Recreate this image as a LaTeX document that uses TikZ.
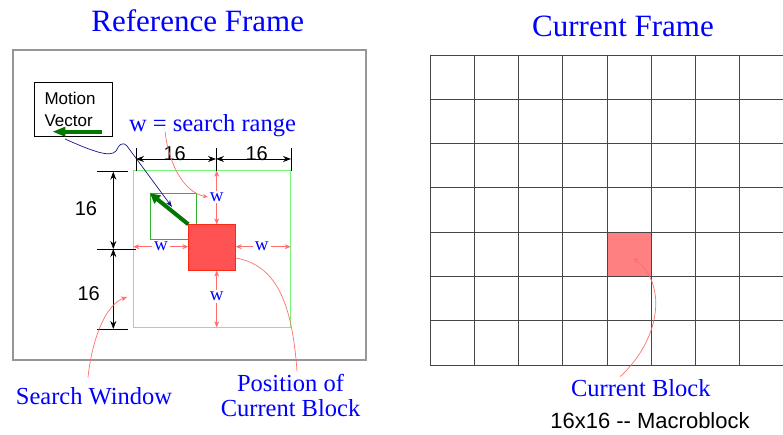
\documentclass[tikz,border=0pt]{standalone}
\usepackage{fontspec}
\setmainfont{Liberation Serif}
\setsansfont{Liberation Sans}
\usetikzlibrary{
  arrows.meta,
  positioning
}
\definecolor{label}{RGB}{0,0,255}
\definecolor{window}{RGB}{120,245,120}
\definecolor{prevblk}{RGB}{50,180,50}
\definecolor{motion}{RGB}{0,120,0}
\definecolor{blockred}{RGB}{255,82,82}
\definecolor{blockedge}{RGB}{255,40,20}
\definecolor{curred}{RGB}{255,128,128}
\definecolor{hint}{RGB}{255,110,110}
\definecolor{framegray}{RGB}{150,150,150}
\definecolor{gridgray}{RGB}{70,70,70}
\definecolor{pointer}{RGB}{20,20,140}

\begin{document}
\begin{tikzpicture}[
  x=1pt, y=-1pt,
  every node/.style={inner sep=0pt, outer sep=0pt},
  title/.style={text=label, font=\fontsize{31}{34}\selectfont, anchor=base},
  caption/.style={text=label, font=\fontsize{24.5}{27}\selectfont, anchor=base},
  wlabel/.style={text=label, font=\fontsize{19}{21}\selectfont, outer sep=2pt},
  dimlabel/.style={font=\sffamily\fontsize{20}{22}\selectfont, anchor=base},
  dimline/.style={{Stealth[length=8pt,width=6pt]}-{Stealth[length=8pt,width=6pt]}, line width=0.8pt},
  tick/.style={line width=0.8pt},
  warrow/.style={-{Stealth[length=6pt,width=5pt]}, draw=hint, line width=0.7pt},
  callout/.style={draw=hint, line width=0.7pt},
  mvarrow/.style={draw=motion, line width=4pt, -{Triangle[length=10pt,width=10pt]}},
  cell/.style={draw=gridgray, line width=0.8pt},
  >=Stealth
]

\useasboundingbox (0,0) rectangle (783,435);

% Titles
\node[title] (reftitle) at (197.7,31.5) {Reference Frame};
\node[title] (curtitle) at (623,36.5) {Current Frame};

% Reference frame
\node[draw=framegray, line width=1.2pt, minimum width=353pt, minimum height=310pt]
  (refframe) at (189.5,205) {};

\node[draw=window, line width=1pt, minimum width=157.4pt, minimum height=156.6pt]
  (win) at (212,249) {};
\node[draw=prevblk, line width=0.9pt, minimum width=46.7pt, minimum height=46pt]
  (prev) at (173.3,216.3) {};
\node[draw=blockedge, fill=blockred, line width=0.8pt, minimum width=47.4pt, minimum height=46.4pt]
  (blk) at (212,247.5) {};

\draw[mvarrow] (blk.north west) -- (prev.north west);
\coordinate (mvtip) at (172,207);

% Motion vector box
\node[draw, line width=0.8pt, minimum width=78.7pt, minimum height=54pt]
  (mvbox) at (73.4,109.3) {};
\node[anchor=west, align=left, font=\sffamily\fontsize{17}{21.7}\selectfont]
  (mvtext) at (44.5,109.7) {Motion\\Vector};
\coordinate (mvtail) at (101.7,131.7);
\coordinate (mvhead) at (52.3,131.7);
\draw[mvarrow, -{Triangle[length=13pt,width=9pt]}] (mvtail) -- (mvhead);

\draw[pointer, line width=0.7pt, -{Stealth[length=7pt,width=5pt]}]
  ([xshift=-8.4pt,yshift=-2.7pt]mvbox.south)
  .. controls (92,151) and (110,158) .. (116,151)
  .. controls (119,145) and (122,141) .. (127,146) -- (mvtip);

% Dimensions
\coordinate (h0) at (136,159);
\coordinate (h1) at (216,159);
\coordinate (h2) at (291,159);
\draw[dimline] (h0) -- (h1);
\draw[dimline] (h1) -- (h2);
\draw[tick] ([yshift=11pt]h0) -- ([yshift=-12pt]h0);
\draw[tick] ([yshift=11pt]h1) -- ([yshift=-12pt]h1);
\draw[tick] ([yshift=11pt]h2) -- ([yshift=-12pt]h2);
\node[dimlabel] (d1) at (174.7,160.5) {16};
\node[dimlabel] (d2) at (256.7,160.5) {16};

\coordinate (v0) at (113.3,171.7);
\coordinate (v1) at (113.3,249);
\coordinate (v2) at (113.3,329);
\draw[dimline] (v0) -- (v1);
\draw[dimline] (v1) -- (v2);
\draw[tick] ([xshift=-16.3pt]v0) -- ([xshift=14.7pt]v0);
\draw[tick] ([xshift=-16.3pt]v1) -- ([xshift=22.7pt]v1);
\draw[tick] ([xshift=-16.3pt]v2) -- ([xshift=14.7pt]v2);
\node[dimlabel] (d3) at (86,216) {16};
\node[dimlabel] (d4) at (88.7,300.7) {16};

% Search range
\node[wlabel] (wtop) at (216.7,197) {w};
\node[wlabel] (wbot) at (216.7,296.7) {w};
\node[wlabel] (wleft) at (161,246.7) {w};
\node[wlabel] (wright) at (261.7,246.7) {w};
\draw[warrow] (wtop) -- (wtop |- win.north);
\draw[warrow] (wtop) -- (wtop |- blk.north);
\draw[warrow] (wbot) -- (wbot |- blk.south);
\draw[warrow] (wbot) -- (wbot |- win.south);
\draw[warrow] (wleft) -- (wleft -| win.west);
\draw[warrow] (wleft) -- (wleft -| blk.west);
\draw[warrow] (wright) -- (wright -| blk.east);
\draw[warrow] (wright) -- (wright -| win.east);

\node[caption] (srange) at (212.5,131.5) {w = search range};
\draw[callout, -{Stealth[length=5pt,width=4pt]}] ([xshift=36pt]srange.base west)
  .. controls (168,160) and (182,192) .. (wtop.west);

% Labels below
\node[caption] (swlabel) at (94,404.3) {Search Window};
\coordinate (swtip) at (127,297);
\draw[callout, -{Stealth[length=6pt,width=5pt]}] ([xshift=-6pt,yshift=10pt]swlabel.north)
  .. controls (92,340) and (105,305) .. (swtip);

\node[caption] (poslabel) at (290.5,391.7) {Position of};
\node[caption] (poslabel2) at (290.5,416.7) {Current Block};
\draw[callout] ([yshift=-10.5pt]blk.east)
  .. controls (275,265) and (292,300) .. ([xshift=6.5pt,yshift=3pt]poslabel.north);

% Current frame
\foreach \i in {0,...,8}
  \draw[cell] (430+44.25*\i,55) -- (430+44.25*\i,365);
\foreach \j in {0,...,7}
  \draw[cell] (430,55+44.29*\j) -- (784,55+44.29*\j);

\node[draw=gridgray, fill=curred, line width=0.8pt, minimum width=44.25pt, minimum height=44.29pt]
  (curblk) at (629.1,254.3) {};

\node[caption] (curlabel) at (640.8,396.7) {Current Block};
\node[font=\sffamily\fontsize{22}{24}\selectfont, anchor=base]
  (mblabel) at (650,428.3) {16x16 -{}- Macroblock};
\draw[callout, -{Stealth[length=6pt,width=5pt]}] ([xshift=-20.8pt,yshift=3pt]curlabel.north)
  .. controls (660,340) and (668,285) .. ([xshift=4pt,yshift=-3.7pt]curblk.center);

\end{tikzpicture}
\end{document}
